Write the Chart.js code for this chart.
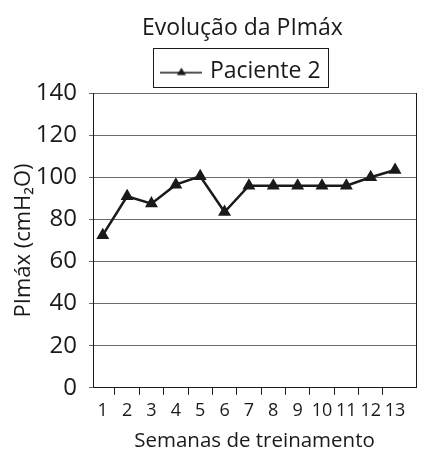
<!DOCTYPE html>
<html>
<head>
<meta charset="utf-8">
<script src="https://cdn.jsdelivr.net/npm/chart.js@4.4.1/dist/chart.umd.min.js"></script>
<style>
  html, body { margin: 0; padding: 0; background: #fff; }
  #caixa { width: 424px; height: 465px; }
</style>
</head>
<body>
<div id="caixa"><canvas id="grafico"></canvas></div>
<script>
// Dados
const semanas = [1, 2, 3, 4, 5, 6, 7, 8, 9, 10, 11, 12, 13];
const paciente2 = [72.5, 91, 87.5, 96.5, 100.5, 83.5, 96, 96, 96, 96, 96, 100, 103.5];
const ticksY = [0, 20, 40, 60, 80, 100, 120, 140];

const fonte = "'Open Sans', sans-serif";
const preto = '#1a1a1a';

// Símbolo da legenda: linha com triângulo no meio
function simboloLegenda() {
    const c = document.createElement('canvas');
    c.width = 42; c.height = 12;
    const g = c.getContext('2d');
    g.strokeStyle = preto;
    g.lineWidth = 1.5;
    g.beginPath(); g.moveTo(0, 7); g.lineTo(42, 7); g.stroke();
    g.fillStyle = preto;
    g.beginPath(); g.moveTo(21, 2); g.lineTo(25.5, 9.5); g.lineTo(16.5, 9.5); g.closePath(); g.fill();
    return c;
}
const simbolo = simboloLegenda();

// Título e legenda um pouco à esquerda do centro da área do gráfico
const deslocaTopo = {
    id: 'deslocaTopo',
    afterLayout(chart) {
        [chart.titleBlock, chart.legend].forEach(b => {
            if (!b) return;
            b.left -= 12;
            b.right -= 12;
        });
    }
};

// Moldura em volta da legenda
const molduraLegenda = {
    id: 'molduraLegenda',
    afterDraw(chart) {
        const box = chart.legend.legendHitBoxes[0];
        if (!box) return;
        const ctx = chart.ctx;
        ctx.save();
        ctx.strokeStyle = preto;
        ctx.lineWidth = 1;
        const x0 = Math.round(box.left - 11) + 0.5;
        const y0 = Math.round(box.top - 12) + 0.5;
        const x1 = Math.round(box.left + box.width + 7) + 0.5;
        const y1 = Math.round(box.top + box.height + 4) + 0.5;
        ctx.strokeRect(x0, y0, x1 - x0, y1 - y0);
        ctx.restore();
    }
};

new Chart(document.getElementById('grafico'), {
    type: 'line',
    data: {
        datasets: [{
            label: 'Paciente 2',
            data: semanas.map((s, i) => ({ x: s, y: paciente2[i] })),
            borderColor: preto,
            backgroundColor: preto,
            borderWidth: 2.5,
            pointStyle: 'triangle',
            pointRadius: 5,
            tension: 0
        }]
    },
    options: {
        responsive: true,
        maintainAspectRatio: false,
        animation: false,
        devicePixelRatio: 1,
        layout: { padding: { left: 0, right: 0, top: 0, bottom: 12 } },
        plugins: {
            title: {
                display: true,
                fullSize: false,
                text: 'Evolução da PImáx',
                color: preto,
                font: { family: fonte, size: 23, weight: 'normal' },
                padding: { top: 15, bottom: 2.5 }
            },
            legend: {
                display: true,
                fullSize: false,
                labels: {
                    color: preto,
                    font: { family: fonte, size: 23 },
                    usePointStyle: true,
                    pointStyle: simbolo,
                    pointStyleWidth: 34,
                    padding: 15,
                    generateLabels(chart) {
                        return [{
                            text: 'Paciente 2',
                            pointStyle: simbolo,
                            fontColor: preto,
                            datasetIndex: 0
                        }];
                    }
                }
            },
            tooltip: { enabled: false }
        },
        scales: {
            x: {
                type: 'linear',
                min: 0.6,
                max: 13.86,
                afterBuildTicks(axis) { axis.ticks = semanas.map(v => ({ value: v })); },
                ticks: { color: preto, font: { family: fonte, size: 18 }, padding: 5, autoSkip: false, maxRotation: 0 },
                grid: {
                    drawOnChartArea: false,
                    offset: true,
                    tickLength: 7,
                    color: c => c.type === 'tick' ? preto : 'rgba(0,0,0,0)'
                },
                border: { color: preto, width: 1 },
                title: {
                    display: true,
                    text: 'Semanas de treinamento',
                    color: preto,
                    font: { family: fonte, size: 20.5 },
                    padding: { top: 2, bottom: 0 }
                }
            },
            y: {
                min: 0,
                max: 140,
                afterBuildTicks(axis) { axis.ticks = ticksY.map(v => ({ value: v })); },
                afterFit(axis) { axis.width = 93; },
                ticks: { color: preto, font: { family: fonte, size: 24 }, padding: 12 },
                grid: { color: '#6a6a6a', tickLength: 4 },
                border: { color: preto, width: 1 },
                title: {
                    display: true,
                    text: 'PImáx (cmH₂O)',
                    color: preto,
                    font: { family: fonte, size: 22 },
                    padding: { top: 11, bottom: 0 }
                }
            },
            y2: {
                position: 'right',
                min: 0,
                max: 140,
                ticks: { display: false },
                grid: { display: false },
                border: { color: preto, width: 1 }
            }
        }
    },
    plugins: [deslocaTopo, molduraLegenda]
});
</script>
</body>
</html>
